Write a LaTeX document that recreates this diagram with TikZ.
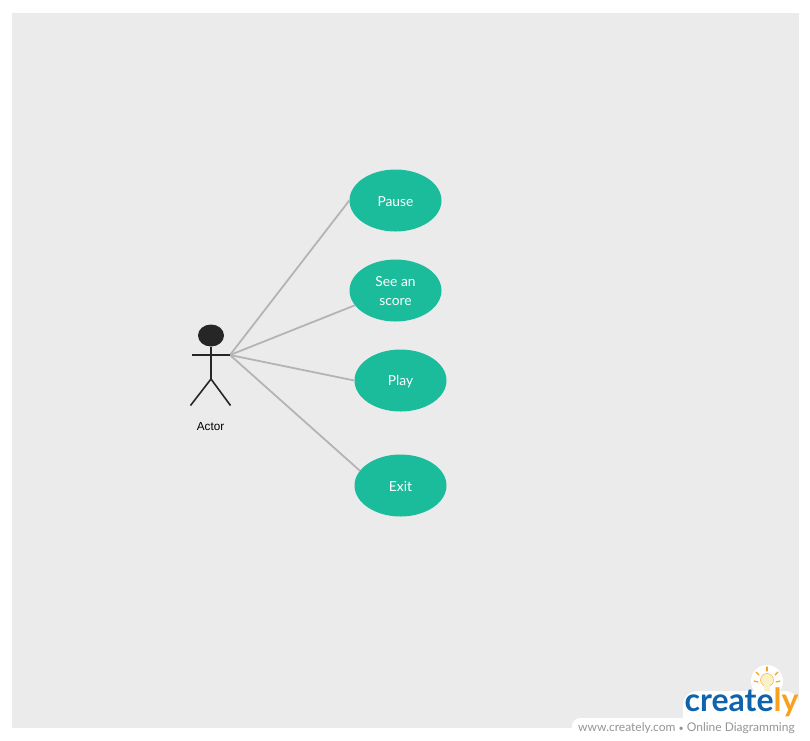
\documentclass[tikz,border=0pt]{standalone}
\usepackage{fontspec}
\setmainfont{Lato}
\newfontfamily\actorfont{Liberation Sans}
\definecolor{bgc}{HTML}{EBEBEB}
\definecolor{teal1}{HTML}{1ABC9C}
\definecolor{linec}{HTML}{B4B4B4}
\definecolor{inkc}{HTML}{262626}
\definecolor{blueL}{HTML}{0F62AC}
\definecolor{orangeL}{HTML}{F7A11E}
\definecolor{bulbc}{HTML}{FBF1C8}
\definecolor{wmc}{HTML}{959595}
\usetikzlibrary{shapes.geometric}
\newcommand{\lowered}[1]{\raisebox{-1pt}[\height][\depth]{#1}}
\tikzset{
  usecase/.style={ellipse,fill=teal1,minimum width=92pt,minimum height=62pt,inner sep=0pt,text=white,font=\fontsize{13.8}{19.5}\selectfont,align=center},
  assoc/.style={draw=linec,line width=1.8pt},
  stick/.style={draw=inkc,line width=1.6pt},
  ray/.style={draw=orangeL,line width=1.2pt,line cap=round},
}
\begin{document}
\begin{tikzpicture}[x=1pt,y=-1pt]
\useasboundingbox (0,0) rectangle (810,740);
\fill[white] (0,0) rectangle (810,740);
\fill[bgc] (12,13) rectangle (799,728);
% use cases
\coordinate (hand) at (230,355);
\node[usecase] (pause) at (395.5,200.5) {\lowered{Pause}};
\node[usecase] (score) at (395.5,290.5) {\lowered{See an}\\score};
\node[usecase] (play) at (400.5,380.5) {\lowered{Play}};
\node[usecase] (exit) at (400.5,485.5) {\lowered{Exit}};
\draw[assoc] (hand) -- (pause.west);
\draw[assoc] (hand) -- (score.200);
\draw[assoc] (hand) -- (play.west);
\draw[assoc] (hand) -- (exit.160);
% actor
\node[ellipse,fill=inkc,minimum width=26pt,minimum height=22pt,inner sep=0pt] (head) at (211,335.5) {};
\coordinate (crotch) at (211,379);
\coordinate (armL) at (192,355);
\coordinate (armR) at (230,355);
\coordinate (footL) at (190.5,405.5);
\coordinate (footR) at (230.5,405.5);
\draw[stick] (head.south) -- (crotch);
\draw[stick] (armL) -- (armR);
\draw[stick] (footL) -- (crotch) -- (footR);
\node[font=\actorfont\fontsize{11.7}{14}\selectfont,text=black] (actor) at (210.5,426.5) {Actor};
% watermark
\fill[white,rounded corners=8pt] (572,745) -- (572,718) -- (690,718) -- (690,745) -- cycle;
\fill[white] (680,722) rectangle (799,740);
\fill[white,rounded corners=14pt] (683,732) rectangle (799,691);
\fill[white] (767,681) circle (16pt);
\node[font=\fontsize{12}{13}\selectfont,text=wmc,anchor=west,inner sep=0pt] (wm) at (578,728) {www.creately.com {\fontsize{9}{9}\selectfont\textbullet}\ Online Diagramming};
\node[font=\fontsize{32}{36}\selectfont,text=blueL,anchor=base west,inner sep=0pt] (logo) at (684.5,711.5) {\textbf{create\textcolor{orangeL}{ly}}};
% bulb
\fill[bulbc,draw=orangeL,line width=.4pt] (767,680) circle (6.5pt);
\fill[bulbc] (764,684) rectangle (770,691);
\draw[ray] (767,671) -- (767,667);
\draw[ray] (759,675) -- (756,672);
\draw[ray] (775,675) -- (778,672);
\draw[ray] (758,682) -- (754,681);
\draw[ray] (776,682) -- (780,681);
\end{tikzpicture}
\end{document}
